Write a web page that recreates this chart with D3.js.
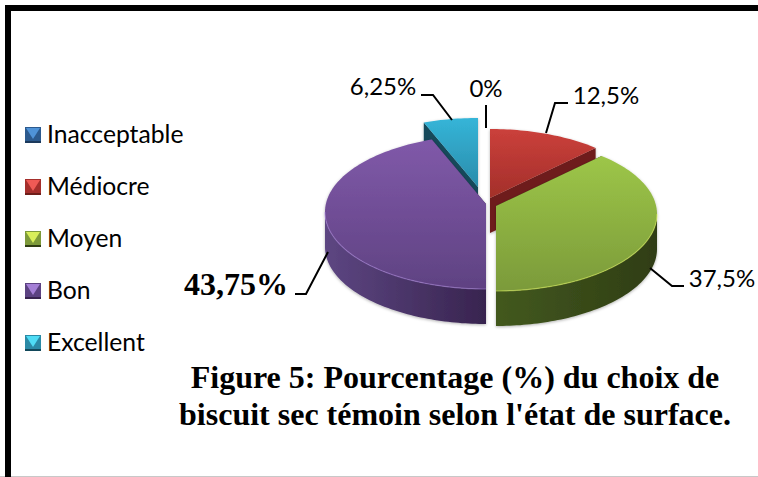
<!DOCTYPE html>
<html><head><meta charset="utf-8">
<script src="https://cdn.jsdelivr.net/npm/d3@7"></script>
<style>html,body{margin:0;padding:0;background:#fff}svg{display:block}</style>
</head><body><svg id="c" width="758" height="477"></svg>
<script>
const categories = ["Inacceptable","Médiocre","Moyen","Bon","Excellent"];
const values = [0,12.5,37.5,43.75,6.25];
const valueLabels = ["0%","12,5%","37,5%","43,75%","6,25%"];
const titleLines = ["Figure 5: Pourcentage (%) du choix de","biscuit sec témoin selon l'état de surface."];
const faceTop = ["#3f76b5","#cb403b","#9dc648","#8059a9","#35b5d8"];
const faceBot = ["#2a5a90","#a32f2a","#7b9a3a","#5f4282","#2a8cab"];
const wallLight = ["#254a75","#7c231f","#43591f","#5d4682","#17566a"];
const wallDark = ["#1c3a5c","#6e1e1a","#2f3d14","#38244f","#12485a"];
const swatchLight = ["#4f93d8","#ef5a55","#d8ee5a","#a47fd6","#4fdcf5"];
const swatchDark = ["#2c5a8e","#a52f2c","#7d9a3a","#5c4282","#2b8aa6"];

// layout constants
const rx=161, ry=77, depth=35, apexLift=8;
const centers=[[486,208],[490,206],[496,214],[486,212],[478,195]];
const leaderPts=[[[486,105],[486,128]],[[568,103],[555,103],[546,133]],[[650,268],[672,286],[684,286]],[[295,294],[306,294],[328,252]],[[421,95],[433,95],[452,120]]];
const labelPos=[[486,97,"sans"],[606,104,"sans"],[722,287,"sans"],[236,295,"serif"],[383,95,"sans"]];

const svg=d3.select("#c"), defs=svg.append("defs");
const sans="Lato, 'Open Sans', sans-serif", serif="'Liberation Serif', serif";

// frame
svg.append("rect").attr("x",0).attr("y",476).attr("width",758).attr("height",1).attr("fill","#c8c8c8");
svg.append("path").attr("d","M8,477V8H758").attr("fill","none").attr("stroke","#000").attr("stroke-width",6);

const arcs=d3.pie().value(d=>d).sort(null).startAngle(0).endAngle(2*Math.PI)(values);
const warp=a=>a-(4*Math.PI/180)*Math.sin(2*a);
const pt=(i,a,dy=0)=>{const t=warp(a);return [centers[i][0]+rx*Math.sin(t),centers[i][1]-ry*Math.cos(t)+dy];};
const apex=(i,dy=0)=>[centers[i][0],centers[i][1]-apexLift+dy];
const rim=(i,a0,a1,dy=0)=>{const n=Math.max(2,Math.ceil((a1-a0)*40));return d3.range(n+1).map(k=>pt(i,a0+(a1-a0)*k/n,dy));};
const line=d3.line();

const shadow=defs.append("filter").attr("id","soft").attr("x","-10%").attr("y","-10%").attr("width","120%").attr("height","120%");
shadow.append("feDropShadow").attr("dx",0).attr("dy",1).attr("stdDeviation",1.5).attr("flood-color","#000").attr("flood-opacity",.3);

categories.forEach((c,i)=>{
  const f=defs.append("linearGradient").attr("id","f"+i).attr("x1",0).attr("y1",0).attr("x2",0).attr("y2",1);
  f.append("stop").attr("offset",0).attr("stop-color",faceTop[i]);
  f.append("stop").attr("offset",1).attr("stop-color",faceBot[i]);
  const w=defs.append("linearGradient").attr("id","w"+i).attr("x1",0).attr("y1",0).attr("x2",1).attr("y2",0);
  w.append("stop").attr("offset",0).attr("stop-color",wallLight[i]);
  w.append("stop").attr("offset",1).attr("stop-color",wallDark[i]);
});

const order=[4,1,3,2];
const pieG=svg.append("g");
order.forEach(i=>{
  const d=arcs[i]; if(d.endAngle-d.startAngle<=0) return;
  const g=pieG.append("g").attr("class","slice").attr("filter","url(#soft)");
  const a0=d.startAngle,a1=d.endAngle;
  [a0,a1].forEach(a=>{
    const p=[apex(i),pt(i,a),pt(i,a,depth),apex(i,depth)];
    g.append("path").attr("d",line(p)+"Z").attr("fill",wallDark[i]);
  });
  const s=Math.max(a0,Math.PI/2),e=Math.min(a1,3*Math.PI/2);
  if(e>s){
    const top=rim(i,s,e),bot=rim(i,s,e,depth).reverse();
    g.append("path").attr("d",line(top.concat(bot))+"Z").attr("fill","url(#w"+i+")");
  }
  const face=[apex(i)].concat(rim(i,a0,a1));
  g.append("path").attr("d",line(face)+"Z").attr("fill","url(#f"+i+")");
  if(e>s){
    g.append("path").attr("d",line(rim(i,s,e))).attr("fill","none").attr("stroke",swatchLight[i]).attr("stroke-opacity",.55).attr("stroke-width",1.2);
  }
});

leaderPts.forEach(p=>svg.append("path").attr("d",line(p)).attr("fill","none").attr("stroke","#000").attr("stroke-width",2));

valueLabels.forEach((t,i)=>{
  const [x,y,k]=labelPos[i];
  svg.append("text").attr("x",x).attr("y",y).attr("text-anchor","middle").attr("fill","#000")
    .attr("font-family",k==="serif"?serif:sans)
    .attr("font-size",k==="serif"?32:24).attr("font-weight",k==="serif"?"bold":"normal").text(t);
});

const ly=d3.scalePoint().domain(categories).range([135,343]);
categories.forEach((c,i)=>{
  const y=ly(c)-8,x=25,s=16,b=3;
  const g=svg.append("g");
  g.append("rect").attr("x",x).attr("y",y).attr("width",s).attr("height",s).attr("fill",swatchDark[i]);
  g.append("path").attr("d",line([[x+1,y+1],[x+s-1,y+1],[x+s/2,y+s-b-1]])+"Z").attr("fill",swatchLight[i]);
  g.append("rect").attr("x",x).attr("y",y+s-2).attr("width",s).attr("height",2).attr("fill",wallDark[i]);
  svg.append("text").attr("x",47).attr("y",ly(c)+8).attr("font-family",sans).attr("font-size",24.7).attr("fill","#000").text(c);
});

titleLines.forEach((t,i)=>svg.append("text").attr("x",455).attr("y",388+i*37).attr("text-anchor","middle")
  .attr("font-family",serif).attr("font-weight","bold").attr("font-size",32).attr("fill","#000").text(t));
</script></body></html>
